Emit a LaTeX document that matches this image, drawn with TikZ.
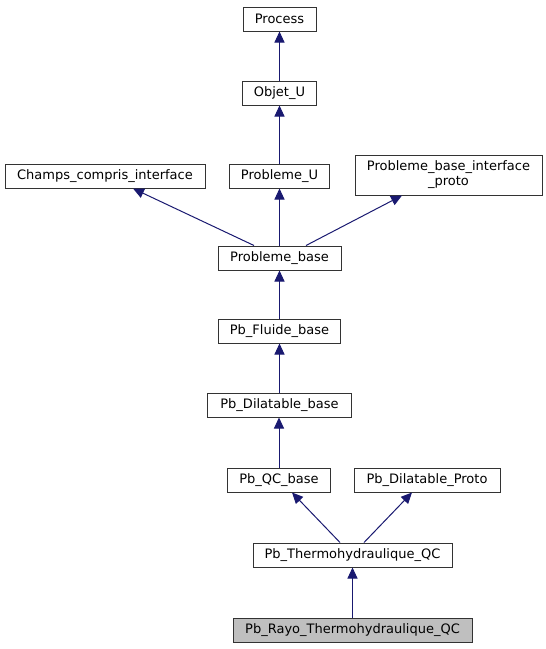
\documentclass[tikz,border=0pt]{standalone}
\usepackage{fontspec}
\setmainfont{DejaVu Sans}
\usetikzlibrary{arrows.meta}
\definecolor{edgecol}{HTML}{191970}
\definecolor{boxline}{HTML}{333333}
\definecolor{hilite}{HTML}{BFBFBF}
\begin{document}
\begin{tikzpicture}[x=1pt,y=-1pt,
  cls/.style={draw=boxline, line width=1pt, minimum height=24pt, inner sep=2pt,
    font=\fontsize{13}{15}\selectfont},
  inh/.style={draw=edgecol, line width=1pt,
    -{Triangle[length=11pt,width=10pt,fill=edgecol]}}]
\useasboundingbox (0,0) rectangle (546,649);
\node[cls, minimum width=73pt] (process) at (279.5,19) {Process};
\node[cls, minimum width=74pt] (objet) at (279.5,93) {Objet\_U};
\node[cls, minimum width=200pt] (champs) at (105,176) {Champs\_compris\_interface};
\node[cls, minimum width=100pt] (pbu) at (279.5,176) {Probleme\_U};
\node[cls, minimum width=187pt, minimum height=40pt, align=center] (pbip) at (448.5,175) {Probleme\_base\_interface\\\_proto};
\node[cls, minimum width=123pt] (pbase) at (279.5,258) {Probleme\_base};
\node[cls, minimum width=122pt] (fluide) at (279.5,331) {Pb\_Fluide\_base};
\node[cls, minimum width=144pt] (dil) at (279.5,405) {Pb\_Dilatable\_base};
\node[cls, minimum width=103pt] (qc) at (279,480) {Pb\_QC\_base};
\node[cls, minimum width=146pt] (proto) at (427,480) {Pb\_Dilatable\_Proto};
\node[cls, minimum width=199pt] (thermo) at (352.5,555) {Pb\_Thermohydraulique\_QC};
\node[cls, minimum width=239pt, fill=hilite] (rayo) at (352.5,630) {Pb\_Rayo\_Thermohydraulique\_QC};
\draw[inh] (objet.north) -- (process.south);
\draw[inh] (pbu.north) -- (objet.south);
\draw[inh] ([xshift=-25.5pt]pbase.north) -- ([xshift=28pt]champs.south);
\draw[inh] (pbase.north) -- (pbu.south);
\draw[inh] ([xshift=26.5pt]pbase.north) -- ([xshift=-46.5pt]pbip.south);
\draw[inh] (fluide.north) -- (pbase.south);
\draw[inh] (dil.north) -- (fluide.south);
\draw[inh] (qc.north) -- (qc.north |- dil.south);
\draw[inh] ([xshift=-12.5pt]thermo.north) -- ([xshift=13pt]qc.south);
\draw[inh] ([xshift=11.5pt]thermo.north) -- ([xshift=-15pt]proto.south);
\draw[inh] (rayo.north) -- (thermo.south);
\end{tikzpicture}
\end{document}
